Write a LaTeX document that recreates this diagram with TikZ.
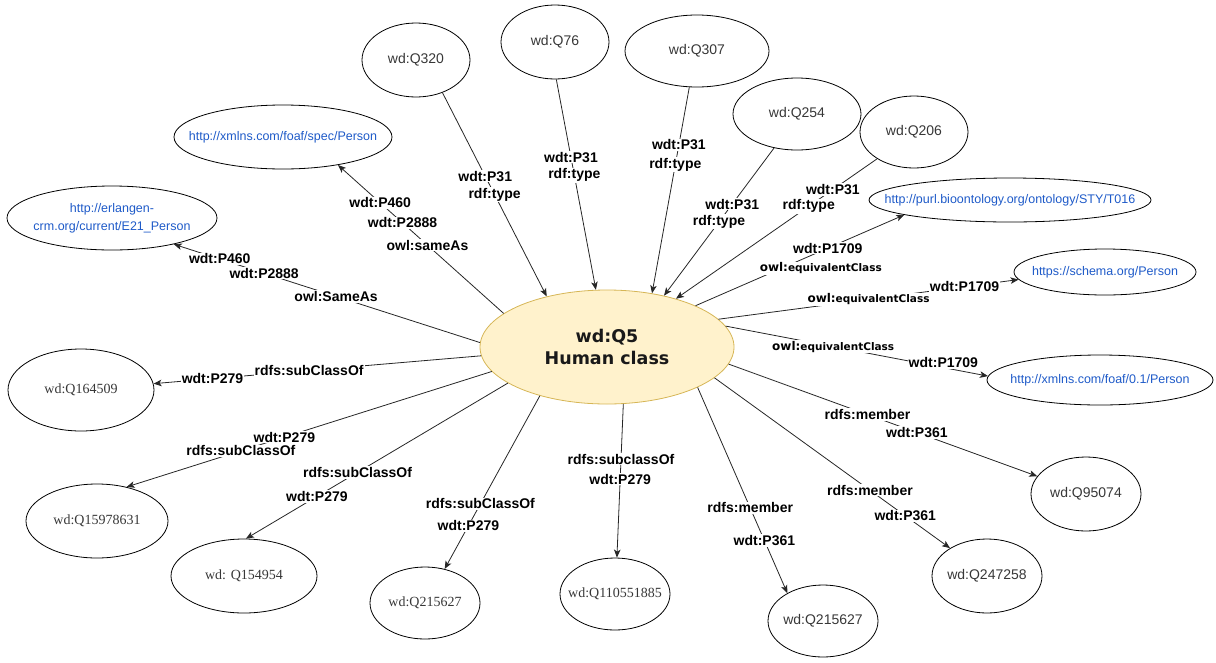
\documentclass[tikz,border=0pt]{standalone}
\usepackage{fontspec}
\setmainfont{Liberation Sans}
\newfontfamily\timesface{Liberation Serif}
\newfontfamily\verdface{DejaVu Sans}
\usetikzlibrary{shapes.geometric,arrows.meta}

\definecolor{urlblue}{RGB}{30,90,200}
\definecolor{nodetext}{RGB}{55,55,55}
\definecolor{humanfill}{RGB}{255,242,204}
\definecolor{humandraw}{RGB}{214,182,86}

% zero-width text so that the ellipse keeps its given size
\newcommand{\zw}[1]{\makebox[0pt]{#1}}
\newcommand{\eqclass}{{\verdface\bfseries\fontsize{12}{14}\selectfont owl:\fontsize{10.5}{12}\selectfont equivalentClass}}

\tikzset{
  ent/.style={ellipse, draw=black, line width=0.8pt, inner sep=0pt,
              text=nodetext, font=\fontsize{14}{16}\selectfont},
  esize/.style 2 args={minimum width=#1pt, minimum height=#2pt},
  urlent/.style={ent, text=urlblue, font=\fontsize{12.5}{18}\selectfont},
  serent/.style={ent, font=\timesface\fontsize{14}{16}\selectfont},
  hub/.style={ellipse, draw=humandraw, fill=humanfill, line width=0.8pt,
              inner sep=0pt, align=center, text=black!90,
              font=\verdface\bfseries\fontsize{17.5}{22}\selectfont},
  lbl/.style={fill=white, inner sep=1pt, text=black,
              font=\bfseries\fontsize{14}{16}\selectfont},
  rel/.style={draw=black!85, line width=0.8pt,
              -{Stealth[length=8pt,width=6.5pt,inset=2pt]}}
}

\begin{document}
\begin{tikzpicture}[x=1pt,y=-1pt]
\useasboundingbox (0,0) rectangle (1216,662);

% central class
\node[hub, esize={254}{114}] (q5) at (607,347) {wd:Q5\\Human class};

% instances (rdf:type)
\node[ent, esize={108}{74}] (q320) at (416,60) {\zw{wd:Q320}};
\node[ent, esize={108}{74}] (q76) at (555,42) {\zw{wd:Q76}};
\node[ent, esize={144}{72}] (q307) at (697,51) {\zw{wd:Q307}};
\node[ent, esize={128}{72}] (q254) at (797,114) {\zw{wd:Q254}};
\node[ent, esize={108}{72}] (q206) at (914,132) {\zw{wd:Q206}};

% equivalent classes
\node[urlent, esize={282}{44}] (purl) at (1010,200) {\zw{http://purl.bioontology.org/ontology/STY/T016}};
\node[urlent, esize={182}{46}] (schema) at (1105,272) {\zw{https://schema.org/Person}};
\node[urlent, esize={226}{50}] (foafzero) at (1100,380) {\zw{http://xmlns.com/foaf/0.1/Person}};

% members
\node[ent, esize={110}{74}] (q95074) at (1086,494) {\zw{wd:Q95074}};
\node[ent, esize={110}{74}] (q247258) at (987,576) {\zw{wd:Q247258}};
\node[ent, esize={110}{72}] (q215627b) at (823,621) {\zw{wd:Q215627}};

% subclasses
\node[serent, esize={110}{72}] (q110) at (615,594) {\zw{wd:Q110551885}};
\node[serent, esize={110}{72}] (q215627a) at (425,603) {\zw{wd:Q215627}};
\node[serent, esize={146}{74}] (q154954) at (244,576) {\zw{wd: Q154954}};
\node[serent, esize={142}{74}] (q1597) at (97,521) {\zw{wd:Q15978631}};
\node[serent, esize={146}{82}] (q164509) at (81,390) {\zw{wd:Q164509}};

% same-as resources
\node[urlent, esize={218}{64}] (foafspec) at (283,137) {\zw{http://xmlns.com/foaf/spec/Person}};
\node[urlent, esize={210}{64}] (erlangen) at (112,218)
  {\zw{\begin{tabular}{@{}c@{}}http://erlangen-\\crm.org/current/E21\_Person\end{tabular}}};

% rdf:type edges
\draw[rel] (q320.-51) -- node[lbl,pos=0.41]{wdt:P31} node[lbl,pos=0.50]{rdf:type} (q5.140);
\draw[rel] (q76.-88) -- node[lbl,pos=0.37]{wdt:P31} node[lbl,pos=0.455]{rdf:type} (q5.101);
\draw[rel] (q307.-102) -- node[lbl,pos=0.28]{wdt:P31} node[lbl,pos=0.376]{rdf:type} (q5.50);
\draw[rel] (q254.-124) -- node[lbl,pos=0.38]{wdt:P31} node[lbl,pos=0.50]{rdf:type} (q5.42);
\draw[rel] (q206.-144) -- node[lbl,pos=0.22]{wdt:P31} node[lbl,pos=0.34]{rdf:type} (q5.35.5);

% equivalent class edges
\draw[rel] (q5.25) -- node[lbl,pos=0.60,yshift=-17pt]{\eqclass} node[lbl,pos=0.634]{wdt:P1709} (purl.-172);
\draw[rel] (q5.14) -- node[lbl,pos=0.50]{\eqclass} node[lbl,pos=0.82]{wdt:P1709} (schema.-175);
\draw[rel] (q5.10) -- node[lbl,pos=0.41]{\eqclass} node[lbl,pos=0.83,yshift=5pt]{wdt:P1709} (foafzero.178);

% member edges
\draw[rel] (q5.-8) -- node[lbl,pos=0.45]{rdfs:member} node[lbl,pos=0.61]{wdt:P361} (q95074.160);
\draw[rel] (q5.-16) -- node[lbl,pos=0.66]{rdfs:member} node[lbl,pos=0.81]{wdt:P361} (q247258.143);
\draw[rel] (q5.-24) -- node[lbl,pos=0.586]{rdfs:member} node[lbl,pos=0.744]{wdt:P361} (q215627b.142);

% subclass edges
\draw[rel] (q5.-74) -- node[lbl,pos=0.36]{rdfs:subclassOf} node[lbl,pos=0.49]{wdt:P279} (q110.87);
\draw[rel] (q5.-144) -- node[lbl,pos=0.624]{rdfs:subClassOf} node[lbl,pos=0.75]{wdt:P279} (q215627a.60);
\draw[rel] (q5.-160) -- node[lbl,pos=0.574]{rdfs:subClassOf} node[lbl,pos=0.729]{wdt:P279} (q154954.87);
\draw[rel] (q5.-168) -- node[lbl,pos=0.568]{wdt:P279} node[lbl,pos=0.687]{rdfs:subClassOf} (q1597.49);
\draw[rel] (q5.-176) -- node[lbl,pos=0.525]{rdfs:subClassOf} node[lbl,pos=0.82]{wdt:P279} (q164509.5);

% same-as edges
\draw[rel] (q5.178) -- node[lbl,pos=0.47]{owl:SameAs} node[lbl,pos=0.705]{wdt:P2888} node[lbl,pos=0.85]{wdt:P460} (erlangen.-23);
\draw[rel] (q5.162) -- node[lbl,pos=0.46]{owl:sameAs} node[lbl,pos=0.61]{wdt:P2888} node[lbl,pos=0.745]{wdt:P460} (foafspec.-27);
\end{tikzpicture}
\end{document}
